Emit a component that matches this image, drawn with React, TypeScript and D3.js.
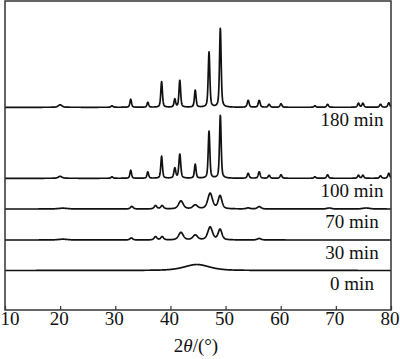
import React, { useEffect, useRef } from 'react'
import * as d3 from 'd3'

// XRD patterns: [2theta, peak height, FWHM]
const seriesNames = ['0 min', '30 min', '70 min', '100 min', '180 min']
const baselines = [39.5, 70, 101, 131.7, 202.7]

const peaks0 = [[44.8, 6, 5.4]]
const peaks30 = [
  [20.5, 0.8, 2], [32.9, 2, 0.6], [37.3, 3.3, 0.6], [38.5, 3.3, 0.6],
  [41.9, 7.5, 1.0], [44.5, 4.8, 1.0], [47.2, 12.8, 1.0], [49.0, 10.5, 0.8],
  [56.1, 1.5, 0.8]
]
const peaks70 = [
  [20.5, 0.8, 2], [33.0, 2.5, 0.6], [37.3, 3.3, 0.6], [38.5, 3.3, 0.6],
  [41.9, 8.0, 1.0], [44.5, 3.8, 1.0], [47.2, 15.5, 1.0], [49.0, 13, 0.8],
  [54.1, 1, 0.8], [56.1, 2.3, 0.8], [68.8, 1, 1], [75.5, 1, 1.5]
]
const peaks100 = [
  [20.0, 2, 0.8], [29.4, 1.5, 0.4], [32.8, 8, 0.35], [35.9, 6.5, 0.35],
  [38.4, 22, 0.35], [40.8, 10, 0.4], [41.7, 24, 0.4], [44.5, 14, 0.35],
  [47.0, 47, 0.35], [49.05, 63, 0.35], [54.1, 5, 0.4], [56.1, 6.5, 0.4],
  [57.9, 3, 0.4], [60.05, 3.5, 0.4], [66.2, 1.5, 0.4], [68.5, 3.5, 0.4],
  [74.1, 3, 0.4], [74.9, 3, 0.4], [78.1, 2.5, 0.4], [79.6, 5, 0.4]
]
const peaks180 = [
  [20.0, 2.5, 0.8], [29.4, 1.5, 0.4], [32.8, 8, 0.35], [35.9, 5, 0.35],
  [38.4, 25.5, 0.35], [40.8, 8, 0.35], [41.7, 27, 0.35], [44.5, 17, 0.35],
  [47.0, 55, 0.35], [49.05, 79, 0.35], [54.1, 7, 0.4], [56.1, 7, 0.4],
  [57.9, 3, 0.4], [60.05, 3.5, 0.4], [66.2, 1.5, 0.4], [68.5, 3, 0.4],
  [74.1, 4, 0.4], [74.9, 4, 0.4], [78.1, 3, 0.4], [79.6, 4.5, 0.4]
]
const allPeaks = [peaks0, peaks30, peaks70, peaks100, peaks180]
const xTicks = [10, 20, 30, 40, 50, 60, 70, 80]

// pseudo-Voigt profile
function profile (t, peaks) {
  let s = 0
  for (const [c, h, w] of peaks) {
    const d = (t - c) / w
    const g = Math.exp(-4 * Math.LN2 * d * d)
    const l = 1 / (1 + 4 * d * d)
    s += h * (0.5 * g + 0.5 * l)
  }
  return s
}

const FONT = 'Liberation Serif, Times New Roman, Times, serif'

const App = () => {
  const svgRef = useRef(null)

  useEffect(() => {
    const svg = d3.select(svgRef.current)
    svg.selectAll('*').remove()

    const x = d3.scaleLinear().domain([10, 80]).range([5, 391])
    const y = d3.scaleLinear().domain([0, 309]).range([310, 1])

    svg.append('defs').append('clipPath').attr('id', 'plotclip')
      .append('rect').attr('x', 5).attr('y', 1).attr('width', 386).attr('height', 309)

    const line = d3.line()
      .x(d => x(d[0]))
      .y(d => y(d[1]))

    const grid = d3.range(10, 80.001, 0.04)
    allPeaks.forEach((peaks, i) => {
      const pts = grid.map(t => [t, baselines[i] + profile(t, peaks)])
      svg.append('path')
        .attr('d', line(pts))
        .attr('fill', 'none')
        .attr('stroke', '#111')
        .attr('stroke-width', 1.7)
        .attr('stroke-linejoin', 'round')
        .attr('clip-path', 'url(#plotclip)')

      svg.append('text')
        .attr('x', 352)
        .attr('y', y(baselines[i]) + 19)
        .attr('text-anchor', 'middle')
        .attr('font-family', FONT)
        .attr('font-size', 19)
        .attr('fill', '#111')
        .text(seriesNames[i])
    })

    // frame
    svg.append('rect')
      .attr('x', 5).attr('y', 1).attr('width', 386).attr('height', 309)
      .attr('fill', 'none').attr('stroke', '#333').attr('stroke-width', 1.5)

    const axis = svg.append('g')
      .attr('transform', 'translate(0,310)')
      .attr('font-family', null)
      .call(d3.axisBottom(x).tickValues(xTicks).tickSizeInner(-4).tickSizeOuter(0).tickPadding(2))
    axis.attr('font-family', FONT).attr('font-size', 19)
    axis.select('.domain').remove()
    axis.selectAll('line').attr('stroke', '#333').attr('stroke-width', 1.2)
    axis.selectAll('text')
      .attr('dy', null)
      .attr('y', 15)
      .attr('fill', '#111')
      .attr('text-anchor', d => (d === 10 ? 'start' : 'middle'))
      .attr('x', d => (d === 10 ? -5 : -1.5))

    const xl = svg.append('text')
      .attr('x', 196).attr('y', 352)
      .attr('text-anchor', 'middle')
      .attr('font-family', FONT)
      .attr('font-size', 19)
      .attr('fill', '#111')
    xl.append('tspan').text('2')
    xl.append('tspan').attr('font-style', 'italic').text('θ')
    xl.append('tspan').text('/(°)')
  }, [])

  return (
    <svg ref={svgRef} width={400} height={359}
      style={{ position: 'absolute', left: 0, top: 0, background: '#fff' }} />
  )
}

export default App
